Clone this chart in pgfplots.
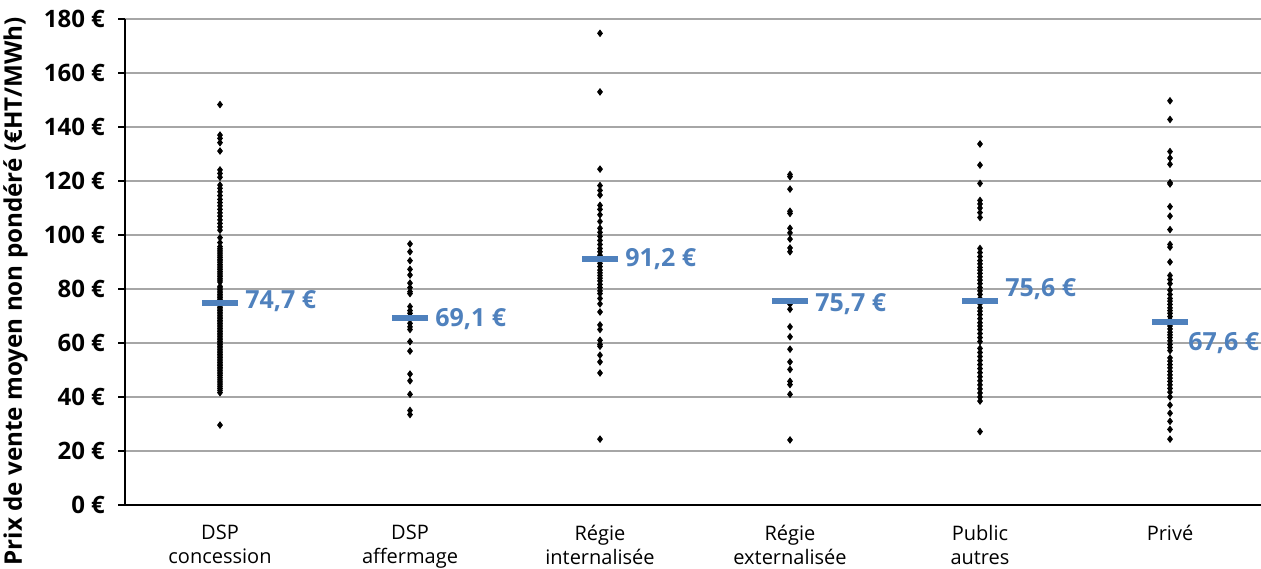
\documentclass[border=0pt]{standalone}
\usepackage{pgfplots}
\usepackage{pgfplotstable}
\pgfplotsset{compat=1.18}
\usepackage{fontspec}
\setmainfont{Open Sans}
\definecolor{meanblue}{HTML}{4F81BD}

\pgfplotstableread{
y
148.3
137.0
135.8
134.2
131.1
124.1
122.8
121.4
118.5
117.3
116.0
114.6
113.2
112.0
110.8
109.5
108.2
107.0
105.6
104.3
103.0
101.8
99.0
97.2
95.7
95.0
94.4
93.7
93.0
92.3
91.7
91.0
90.4
89.8
89.1
88.5
87.8
87.2
86.5
85.9
85.2
84.6
83.9
83.3
82.6
81.0
80.4
79.8
79.2
78.6
78.0
77.4
76.8
76.2
75.6
75.0
74.4
73.8
73.2
72.6
72.0
71.4
70.8
70.2
69.6
69.0
68.4
67.8
67.2
66.6
66.0
65.4
64.8
64.2
63.6
63.0
62.4
61.8
61.2
60.6
60.0
59.4
58.8
58.2
57.6
57.0
56.4
55.8
55.2
54.6
54.0
53.4
52.8
52.2
51.6
51.0
50.4
49.8
49.2
48.6
48.0
47.3
46.6
45.9
45.2
44.5
43.8
43.1
42.4
41.6
29.6
}\dspconc

\pgfplotstableread{
y
96.7
93.8
90.5
87.3
85.2
82.2
80.5
79.0
78.3
73.5
72.0
71.0
67.3
66.0
65.0
60.5
57.0
48.5
46.0
41.0
35.0
33.5
}\dspaff

\pgfplotstableread{
y
174.7
153.0
124.4
118.3
116.5
114.8
111.0
109.5
107.5
105.0
102.5
101.0
99.5
98.0
96.5
95.0
93.8
92.5
90.8
89.5
88.3
87.0
86.0
85.0
84.0
83.0
81.7
80.5
79.3
78.3
76.5
74.5
71.5
66.7
65.0
61.0
59.5
58.8
55.5
53.0
48.9
24.4
}\regint

\pgfplotstableread{
y
122.4
121.6
117.0
108.8
108.0
102.5
100.8
98.5
95.2
93.8
74.4
72.5
66.0
62.3
57.7
53.0
50.2
45.8
44.6
41.0
24.1
}\regext

\pgfplotstableread{
y
133.7
125.9
119.1
112.8
111.5
110.0
108.3
106.5
95.0
93.5
92.0
90.5
89.3
88.0
87.0
85.8
84.5
83.3
82.0
80.5
79.3
78.0
76.5
74.5
73.0
71.8
70.5
69.0
67.5
66.3
65.0
63.5
62.0
60.5
58.0
56.5
55.0
53.5
52.0
50.5
49.0
47.5
46.0
44.5
43.0
41.5
40.0
38.5
27.2
}\pubaut

\pgfplotstableread{
y
149.7
142.8
130.9
128.5
126.2
119.4
118.9
110.5
107.0
102.0
96.5
95.5
90.0
85.0
83.5
82.0
79.6
78.0
76.5
75.5
74.3
73.0
72.0
71.0
69.8
68.6
67.4
66.3
65.2
64.0
63.0
62.0
60.8
59.5
58.3
57.2
54.5
53.3
52.0
50.8
49.5
48.2
47.0
45.8
44.5
43.2
41.8
40.0
37.0
34.0
31.0
28.0
24.4
}\prive

\begin{document}
\begin{tikzpicture}
\begin{axis}[
  at={(62.5pt,31.5pt)}, anchor=south west,
  scale only axis, width=570pt, height=243pt,
  xmin=-0.5, xmax=5.5, ymin=0, ymax=180,
  enlargelimits=false, clip=false,
  axis x line*=bottom, axis y line*=left,
  axis line style={black, line width=0.8pt},
  xtick={0,...,5},
  xticklabels={{DSP\\concession},{DSP\\affermage},{Régie\\internalisée},{Régie\\externalisée},{Public\\autres},{Privé}},
  xticklabel style={align=center, font=\fontsize{10}{12}\selectfont, yshift=-3pt},
  x tick style={draw=none},
  minor xtick={-0.5,0.5,...,5.5},
  minor x tick style={black, line width=0.6pt},
  minor tick length=3pt,
  ytick={0,20,...,180},
  yticklabels={0 €,20 €,40 €,60 €,80 €,100 €,120 €,140 €,160 €,180 €},
  yticklabel style={font=\fontsize{12}{14}\selectfont\bfseries, xshift=-3pt},
  y tick style={black, line width=0.6pt},
  major tick length=3.5pt,
  tick align=outside,
  ymajorgrids, major grid style={gray!70, line width=0.6pt},
  ylabel={Prix de vente moyen non pondéré (€HT/MWh)},
  ylabel style={font=\fontsize{12.1}{14}\selectfont\bfseries, at={(axis description cs:-0.096,0.44)}, anchor=center, rotate=0},
]
\addplot[only marks, mark=diamond*, mark size=1.6pt, black] table[x expr=0, y=y] {\dspconc};
\addplot[only marks, mark=diamond*, mark size=1.6pt, black] table[x expr=1, y=y] {\dspaff};
\addplot[only marks, mark=diamond*, mark size=1.6pt, black] table[x expr=2, y=y] {\regint};
\addplot[only marks, mark=diamond*, mark size=1.6pt, black] table[x expr=3, y=y] {\regext};
\addplot[only marks, mark=diamond*, mark size=1.6pt, black] table[x expr=4, y=y] {\pubaut};
\addplot[only marks, mark=diamond*, mark size=1.6pt, black] table[x expr=5, y=y] {\prive};
\addplot[only marks, mark=-, mark size=9pt, mark options={line width=3pt, meanblue}] coordinates {(0,74.7) (1,69.1) (2,91.2) (3,75.7) (4,75.6) (5,67.6)};
\begin{scope}[every node/.style={anchor=west, inner sep=0pt, xshift=12.5pt, text=meanblue, font=\fontsize{12.5}{14}\selectfont\bfseries}]
\node at (axis cs:0,75.6) {74,7 €};
\node at (axis cs:1,68.9) {69,1 €};
\node at (axis cs:2,91.1) {91,2 €};
\node at (axis cs:3,74.4) {75,7 €};
\node at (axis cs:4,80.0) {75,6 €};
\node[xshift=-3.5pt] at (axis cs:5,60.0) {67,6 €};
\end{scope}
\end{axis}
\pgfresetboundingbox
\path (0,0) rectangle (630.5pt,284pt);
\end{tikzpicture}
\end{document}
